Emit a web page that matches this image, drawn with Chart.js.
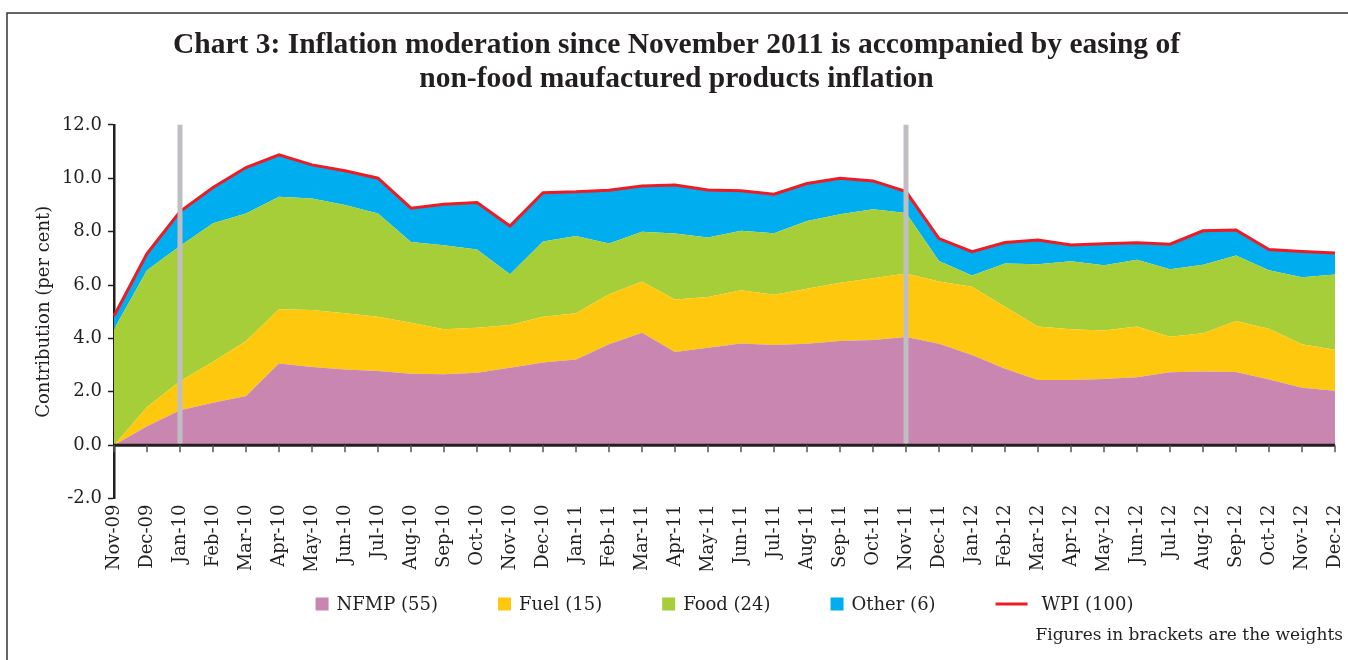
<!DOCTYPE html>
<html>
<head>
<meta charset="utf-8">
<script src="https://cdn.jsdelivr.net/npm/chart.js@4"></script>
<style>
  html, body { margin: 0; padding: 0; background: #fff; overflow: hidden; }
</style>
</head>
<body>
<canvas id="myChart" width="1348" height="660"></canvas>
<script>
// month labels, Nov-09 .. Dec-12
const months = ['Nov-09', 'Dec-09',
    'Jan-10', 'Feb-10', 'Mar-10', 'Apr-10', 'May-10', 'Jun-10', 'Jul-10', 'Aug-10', 'Sep-10', 'Oct-10', 'Nov-10', 'Dec-10',
    'Jan-11', 'Feb-11', 'Mar-11', 'Apr-11', 'May-11', 'Jun-11', 'Jul-11', 'Aug-11', 'Sep-11', 'Oct-11', 'Nov-11', 'Dec-11',
    'Jan-12', 'Feb-12', 'Mar-12', 'Apr-12', 'May-12', 'Jun-12', 'Jul-12', 'Aug-12', 'Sep-12', 'Oct-12', 'Nov-12', 'Dec-12'];

// contributions (percentage points)
const nfmp = [0, 0.71, 1.31, 1.59, 1.84, 3.06, 2.93, 2.84, 2.78, 2.68, 2.66, 2.71, 2.90, 3.10, 3.21, 3.78, 4.21, 3.49, 3.65,
    3.81, 3.75, 3.80, 3.90, 3.94, 4.05, 3.80, 3.38, 2.86, 2.44, 2.44, 2.48, 2.55, 2.73, 2.76, 2.74, 2.46, 2.15, 2.04];
const fuel = [0, 0.72, 1.09, 1.54, 2.06, 2.03, 2.13, 2.10, 2.03, 1.91, 1.68, 1.69, 1.60, 1.71, 1.73, 1.87, 1.92, 1.97, 1.90,
    1.99, 1.89, 2.06, 2.19, 2.31, 2.38, 2.33, 2.56, 2.33, 2.01, 1.90, 1.82, 1.90, 1.33, 1.43, 1.91, 1.90, 1.63, 1.54];
const food = [4.34, 5.12, 5.06, 5.18, 4.78, 4.22, 4.18, 4.06, 3.87, 3.02, 3.15, 2.93, 1.90, 2.82, 2.90, 1.91, 1.87, 2.47, 2.23,
    2.23, 2.30, 2.54, 2.56, 2.59, 2.27, 0.77, 0.42, 1.62, 2.33, 2.55, 2.44, 2.50, 2.53, 2.57, 2.46, 2.19, 2.51, 2.81];
const other = [0.50, 0.63, 1.29, 1.34, 1.72, 1.57, 1.26, 1.28, 1.32, 1.27, 1.54, 1.76, 1.81, 1.83, 1.65, 1.99, 1.71, 1.82, 1.78,
    1.50, 1.46, 1.40, 1.35, 1.06, 0.80, 0.84, 0.89, 0.78, 0.91, 0.61, 0.81, 0.63, 0.94, 1.27, 0.95, 0.78, 0.97, 0.81];
const wpi = [4.84, 7.18, 8.75, 9.65, 10.40, 10.88, 10.50, 10.28, 10.00, 8.88, 9.03, 9.09, 8.21, 9.46, 9.49, 9.55, 9.71, 9.75, 9.56,
    9.53, 9.40, 9.80, 10.00, 9.90, 9.50, 7.74, 7.25, 7.59, 7.69, 7.50, 7.55, 7.58, 7.53, 8.03, 8.06, 7.33, 7.26, 7.20];

// months marked with the grey vertical bars
const markerMonths = ['Jan-10', 'Nov-11'];

const yMin = -2;
const yMax = 12;
const yStep = 2;

const serif = 'DejaVu Serif';
const ink = '#231f20';

// frame, grey markers, zero axis and its tick marks
const decor = {
    id: 'decor',
    beforeDraw: (chart) => {
        const ctx = chart.ctx;
        ctx.save();
        ctx.strokeStyle = '#333';
        ctx.lineWidth = 1.5;
        ctx.beginPath();
        ctx.moveTo(7, chart.height);
        ctx.lineTo(7, 13);
        ctx.lineTo(chart.width, 13);
        ctx.stroke();
        ctx.restore();
    },
    afterDatasetsDraw: (chart) => {
        const ctx = chart.ctx;
        const x = chart.scales.x;
        const y = chart.scales.y;
        const y0 = y.getPixelForValue(0);
        ctx.save();
        // grey bars
        ctx.strokeStyle = '#bfbfc3';
        ctx.lineWidth = 5;
        markerMonths.forEach((m) => {
            const px = x.getPixelForValue(months.indexOf(m));
            ctx.beginPath();
            ctx.moveTo(px, y.getPixelForValue(yMax));
            ctx.lineTo(px, y0);
            ctx.stroke();
        });
        // zero line
        ctx.strokeStyle = ink;
        ctx.lineWidth = 3;
        ctx.beginPath();
        ctx.moveTo(chart.chartArea.left, y0);
        ctx.lineTo(chart.chartArea.right, y0);
        ctx.stroke();
        // category ticks hang below the zero line
        ctx.strokeStyle = '#555';
        ctx.lineWidth = 1.5;
        months.forEach((m, i) => {
            const px = x.getPixelForValue(i);
            ctx.beginPath();
            ctx.moveTo(px, y0);
            ctx.lineTo(px, y0 + 7);
            ctx.stroke();
        });
        ctx.restore();
    }
};

// legend drawn in one row from the library's legend items (Excel-like spacing)
const rowLegend = {
    id: 'rowLegend',
    afterDraw: (chart, args, opts) => {
        const items = chart.legend ? chart.legend.legendItems : [];
        if (!items || !items.length) return;
        const ctx = chart.ctx;
        ctx.save();
        ctx.font = opts.fontSize + 'px ' + serif;
        ctx.textBaseline = 'middle';
        ctx.textAlign = 'left';
        const parts = items.map((it) => {
            const isLine = it.pointStyle === 'line';
            const mark = isLine ? opts.lineWidth : opts.boxSize;
            const gap = isLine ? opts.lineGap : opts.boxGap;
            return { it, isLine, mark, gap, w: mark + gap + ctx.measureText(it.text).width };
        });
        const total = parts.reduce((s, p) => s + p.w, 0) + opts.spacing * (parts.length - 1);
        let cx = (chart.chartArea.left + chart.chartArea.right) / 2 - total / 2;
        const cy = opts.y;
        parts.forEach((p) => {
            if (p.isLine) {
                ctx.strokeStyle = p.it.strokeStyle;
                ctx.lineWidth = p.it.lineWidth;
                ctx.beginPath();
                ctx.moveTo(cx, cy);
                ctx.lineTo(cx + p.mark, cy);
                ctx.stroke();
            } else {
                ctx.fillStyle = p.it.fillStyle;
                ctx.fillRect(cx, cy - p.mark / 2, p.mark, p.mark);
            }
            ctx.fillStyle = ink;
            ctx.fillText(p.it.text, cx + p.mark + p.gap, cy + 1);
            cx += p.w + opts.spacing;
        });
        ctx.restore();
    }
};

const area = (label, data, color, fill) => ({
    label: label,
    data: data,
    backgroundColor: color,
    borderColor: color,
    borderWidth: 0,
    pointRadius: 0,
    pointStyle: 'rect',
    fill: fill,
    tension: 0
});

const chartData = {
    labels: months,
    datasets: [
        area('NFMP (55)', nfmp, '#c886b0', 'origin'),
        area('Fuel (15)', fuel, '#fec80e', '-1'),
        area('Food (24)', food, '#a6ce39', '-1'),
        area('Other (6)', other, '#00aeef', '-1'),
        {
            label: 'WPI (100)',
            data: wpi,
            stack: 'wpi',
            order: -1,
            borderColor: '#ed1c24',
            backgroundColor: '#ed1c24',
            borderWidth: 3,
            pointRadius: 0,
            pointStyle: 'line',
            fill: false,
            tension: 0
        }
    ]
};

const config = {
    type: 'line',
    data: chartData,
    options: {
        responsive: false,
        animation: false,
        devicePixelRatio: 1,
        layout: {
            padding: { left: 10, right: 5, top: 0, bottom: 10 }
        },
        plugins: {
            tooltip: { enabled: false },
            title: {
                display: true,
                text: ['Chart 3: Inflation moderation since November 2011 is accompanied by easing of',
                    'non-food maufactured products inflation'],
                color: ink,
                font: { family: 'Liberation Serif', size: 29.5, weight: 'bold', lineHeight: 1.15 },
                padding: { top: 28, bottom: 29 }
            },
            subtitle: {
                display: true,
                position: 'bottom',
                align: 'end',
                text: 'Figures in brackets are the weights',
                color: ink,
                font: { family: serif, size: 17 },
                padding: { top: 55, bottom: 4 }
            },
            legend: {
                display: false,
                labels: {
                    usePointStyle: true,
                    sort: (a, b) => a.datasetIndex - b.datasetIndex
                }
            },
            rowLegend: {
                y: 604,
                fontSize: 18,
                boxSize: 13,
                boxGap: 8,
                lineWidth: 32,
                lineGap: 14,
                spacing: 60
            }
        },
        scales: {
            x: {
                offset: false,
                grid: { display: false, drawTicks: false },
                border: { display: false },
                ticks: {
                    autoSkip: false,
                    minRotation: 90,
                    maxRotation: 90,
                    padding: 6,
                    color: ink,
                    font: { family: serif, size: 18 }
                },
                afterFit: (scale) => {
                    scale.height = 72;
                    scale.paddingRight = 13;
                }
            },
            y: {
                stacked: true,
                min: yMin,
                max: yMax,
                ticks: {
                    stepSize: yStep,
                    padding: 6,
                    color: ink,
                    font: { family: serif, size: 18 },
                    callback: (v) => v.toFixed(1)
                },
                grid: {
                    drawOnChartArea: false,
                    drawTicks: true,
                    tickLength: 6,
                    tickColor: ink,
                    tickWidth: 1.5
                },
                border: { display: true, color: ink, width: 2.5 },
                title: {
                    display: true,
                    text: 'Contribution (per cent)',
                    color: ink,
                    font: { family: serif, size: 18 },
                    padding: { top: 24, bottom: 0 }
                },
                afterFit: (scale) => {
                    scale.width = 104;
                }
            }
        }
    },
    plugins: [decor, rowLegend]
};

const myChart = new Chart(
    document.getElementById('myChart'),
    config
);
</script>
</body>
</html>
